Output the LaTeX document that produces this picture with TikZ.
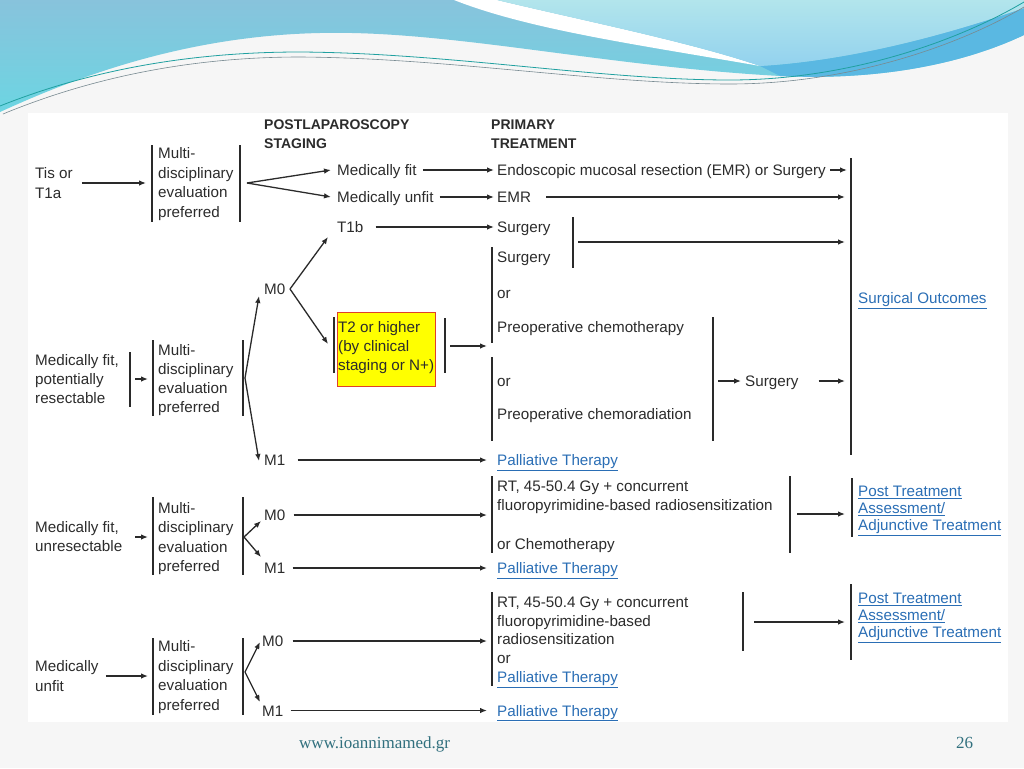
\documentclass[tikz,border=0pt]{standalone}
\usepackage{fontspec}
\setmainfont{Liberation Sans}
\newfontfamily\footfont{Liberation Serif}
\usetikzlibrary{arrows.meta}
\definecolor{txtc}{HTML}{2C2C2C}
\definecolor{lnc}{HTML}{2A2A2A}
\definecolor{lnkc}{HTML}{2A6EB5}
\definecolor{redc}{HTML}{E0402A}
\definecolor{yelc}{HTML}{FFFF00}
\definecolor{bgc}{HTML}{F6F6F6}
\definecolor{hbA}{HTML}{88C3DC}
\definecolor{hbB}{HTML}{6CD5E2}
\definecolor{hcA}{HTML}{B2E5EC}
\definecolor{hcB}{HTML}{93D2EE}
\definecolor{hband}{HTML}{5AB8E2}
\definecolor{footc}{HTML}{31707E}
\tikzset{
  txt/.style={anchor=base west, inner sep=0pt, text=txtc, font=\fontsize{15.2}{19.5}\selectfont, text height=11pt, text depth=0pt},
  mtxt/.style={anchor=base west, inner sep=0pt, text=txtc, align=left, font=\fontsize{15.2}{#1}\selectfont},
  mtxt/.default=19.5,
  hdr/.style={anchor=base west, inner sep=0pt, text=txtc, align=left, font=\fontsize{14}{19}\selectfont\bfseries},
  lnk/.style={anchor=base west, inner sep=0pt, text=lnkc, font=\fontsize{15.2}{19.5}\selectfont, text height=11pt, text depth=0pt},
  lnkm/.style={anchor=base west, inner sep=0pt, text=lnkc, align=left, font=\fontsize{15.2}{17}\selectfont},
  bar/.style={draw=lnc, line width=1.3pt},
  arr/.style={draw=lnc, line width=1.3pt, -{Latex[length=7pt,width=5.5pt]}},
}
\begin{document}
\begin{tikzpicture}[x=1pt,y=-1pt]
\useasboundingbox (0,0) rectangle (1024,768);
\fill[bgc] (0,0) rectangle (1024,768);
% header waves
\shade[top color=hbA, bottom color=hbB] (0,0) -- (1024,0) -- (1024,35)
  .. controls (950,70) and (860,80) .. (780,76)
  .. controls (600,66) and (450,30) .. (320,33)
  .. controls (180,36) and (70,80) .. (0,112) -- cycle;
\fill[hband] (760,66) .. controls (860,60) and (960,30) .. (1024,8) -- (1024,35)
  .. controls (950,70) and (860,80) .. (780,76) -- cycle;
\fill[white] (454,0) .. controls (530,30) and (640,45) .. (760,66)
  .. controls (690,42) and (580,20) .. (497,0) -- cycle;
\shade[top color=hcA, bottom color=hcB] (497,0) .. controls (580,20) and (690,42) .. (760,66)
  .. controls (860,60) and (960,30) .. (1024,8) -- (1024,0) -- cycle;
\draw[color={rgb,255:red,32;green,160;blue,160}, line width=0.8pt]
  (0,106) .. controls (90,70) and (190,52) .. (300,52) .. controls (450,53) and (600,80) .. (730,80) .. controls (850,80) and (960,40) .. (1024,2);
\draw[color={rgb,255:red,120;green,138;blue,145}, line width=0.6pt]
  (3,114) .. controls (95,76) and (195,57) .. (300,57) .. controls (450,58) and (600,84) .. (730,84) .. controls (850,84) and (960,45) .. (1024,7);
% image area
\fill[white] (28,113) rectangle (1008,722);

% headers (anchor = baseline of last line)
\node[hdr] (hpost) at (264,148) {POSTLAPAROSCOPY\\STAGING};
\node[hdr] (hprim) at (491,148) {PRIMARY\\TREATMENT};

% ---------- section 1
\node[mtxt=20] (tis) at (35,198.5) {Tis or\\T1a};
\node[mtxt=19.7] (box1) at (158,217.6) {Multi-\\disciplinary\\evaluation\\preferred};
\node[txt] (mfit) at (337,175.5) {Medically fit};
\node[txt] (endo) at (497,175.5) {Endoscopic mucosal resection (EMR) or Surgery};
\node[txt] (munfit) at (337,202.5) {Medically unfit};
\node[txt] (emr) at (497,202.5) {EMR};
\node[txt] (t1b) at (337,232.5) {T1b};
\node[txt] (surg1) at (497,232.5) {Surgery};
\node[txt] (surg2) at (497,262.5) {Surgery};
\node[txt] (or1) at (497,298.5) {or};
\node[txt] (pchemo) at (497,332.5) {Preoperative chemotherapy};
\node[txt] (or2) at (497,386.5) {or};
\node[txt] (pchrad) at (497,419.5) {Preoperative chemoradiation};
\node[txt] (surg3) at (745,386.5) {Surgery};
\node[lnk] (surgout) at (858,303.5) {\underline{Surgical Outcomes}};
\node[txt] (m0a) at (264,294.5) {M0};
\node[txt] (m1a) at (264,465.5) {M1};
\node[lnk] (pal1) at (497,465.5) {\underline{Palliative Therapy}};
\node[draw=redc, line width=1pt, fill=yelc, minimum width=98pt, minimum height=74pt, anchor=north west, inner sep=0pt] (t2box) at (337,312) {};
\node[mtxt=19] (t2) at (338,370.5) {T2 or higher\\(by clinical\\staging or N+)};

\draw[bar] (152,145) -- (152,222);
\draw[bar] (240,145) -- (240,222);
\draw[bar] (573,217) -- (573,268);
\draw[bar] (492,247) -- (492,343);
\draw[bar] (492,357) -- (492,441);
\draw[bar] (713,317) -- (713,441);
\draw[bar] (851,158) -- (851,455);
\draw[bar] (334,317) -- (334,373);
\draw[bar] (445,318) -- (445,373);

\coordinate (b1in) at (146,183);
\coordinate (v1) at (247,183);
\coordinate (bb1) at (847,170);
\coordinate (bb2) at (845,197);
\coordinate (s1bar) at (578,242);
\coordinate (bb3) at (845,242);
\coordinate (v0) at (290,289);
\coordinate (t1btip) at (328,237);
\coordinate (t2tip) at (328,344);
\coordinate (t2out) at (450,346);
\coordinate (pin) at (487,346);
\coordinate (sbar) at (718,381);
\coordinate (bb4) at (845,381);

\draw[arr] ([xshift=9pt]b1in -| tis.east) -- (b1in);
\draw[arr] (v1) -- ([xshift=-6pt]mfit.west);
\draw[arr] (v1) -- ([xshift=-6pt]munfit.west);
\draw[arr] ([xshift=6pt]mfit.east) -- ([xshift=-3pt]endo.west);
\draw[arr] ([xshift=4pt]endo.east) -- (bb1);
\draw[arr] ([xshift=6pt]munfit.east) -- ([xshift=-3pt]emr.west);
\draw[arr] ([xshift=15pt]emr.east) -- (bb2);
\draw[arr] ([xshift=12pt]t1b.east) -- ([xshift=-3pt]surg1.west);
\draw[arr] (s1bar) -- (bb3);
\draw[arr] (v0) -- (t1btip);
\draw[arr] (v0) -- (t2tip);
\draw[arr] (t2out) -- (pin);
\draw[arr] (sbar) -- ([xshift=-4pt]surg3.west);
\draw[arr] ([xshift=20pt]surg3.east) -- (bb4);
\draw[arr] ([xshift=12pt]m1a.east) -- ([xshift=-10pt]pal1.west);

% ---------- section 2
\node[mtxt=19] (res) at (35,403.5) {Medically fit,\\potentially\\resectable};
\node[mtxt=19] (box2) at (158,412.5) {Multi-\\disciplinary\\evaluation\\preferred};
\draw[bar] (130,352) -- (130,407);
\draw[bar] (153,340) -- (153,416);
\draw[bar] (243,340) -- (243,416);
\coordinate (r1) at (135,379);
\coordinate (r2) at (148,379);
\coordinate (v2) at (245,378);
\coordinate (m0tip) at (259,296);
\coordinate (m1tip) at (259,461);
\draw[arr] (r1) -- (r2);
\draw[arr] (v2) -- (m0tip);
\draw[arr] (v2) -- (m1tip);

% ---------- section 3
\node[mtxt=19] (unres) at (35,551.5) {Medically fit,\\unresectable};
\node[mtxt=19.3] (box3) at (158,571.4) {Multi-\\disciplinary\\evaluation\\preferred};
\node[txt] (m0b) at (264,520.5) {M0};
\node[txt] (m1b) at (264,573.5) {M1};
\node[mtxt=19] (rt1) at (497,510.5) {RT, 45-50.4 Gy + concurrent\\fluoropyrimidine-based radiosensitization};
\node[txt] (orchemo) at (497,549.5) {or Chemotherapy};
\node[lnk] (pal2) at (497,573.5) {\underline{Palliative Therapy}};
\node[lnkm] (pta1) at (858,530.5) {\underline{Post Treatment}\\\underline{Assessment/}\\\underline{Adjunctive Treatment}};
\draw[bar] (153,497) -- (153,575);
\draw[bar] (243,497) -- (243,575);
\draw[bar] (492,476) -- (492,553);
\draw[bar] (790,476) -- (790,553);
\draw[bar] (852,478) -- (852,537);
\coordinate (u1) at (135,537);
\coordinate (u2) at (148,537);
\coordinate (v3) at (244,537);
\coordinate (m0btip) at (261,521);
\coordinate (m1btip) at (261,557);
\coordinate (rt1in) at (487,515);
\coordinate (rt1out) at (797,514);
\coordinate (pta1in) at (845,514);
\draw[arr] (u1) -- (u2);
\draw[arr] (v3) -- (m0btip);
\draw[arr] (v3) -- (m1btip);
\draw[arr] ([xshift=8pt]m0b.east) -- (rt1in);
\draw[arr] ([xshift=7pt]m1b.east) -- ([xshift=-10pt]pal2.west);
\draw[arr] (rt1out) -- (pta1in);

% ---------- section 4
\node[mtxt=20] (unfit) at (35,691.5) {Medically\\unfit};
\node[mtxt=19.7] (box4) at (158,710.6) {Multi-\\disciplinary\\evaluation\\preferred};
\node[txt] (m0c) at (262,646.5) {M0};
\node[txt] (m1c) at (262,716) {M1};
\node[mtxt=18.7] (rt2) at (497,682.3) {RT, 45-50.4 Gy + concurrent\\fluoropyrimidine-based\\radiosensitization\\or\\\textcolor{lnkc}{\underline{Palliative Therapy}}};
\node[lnkm] (pta2) at (858,637.5) {\underline{Post Treatment}\\\underline{Assessment/}\\\underline{Adjunctive Treatment}};
\node[lnk] (pal3) at (497,716) {\underline{Palliative Therapy}};
\draw[bar] (153,638) -- (153,715);
\draw[bar] (243,638) -- (243,715);
\draw[bar] (492,592) -- (492,686);
\draw[bar] (743,592) -- (743,651);
\draw[bar] (851,584) -- (851,660);
\coordinate (b4in) at (148,676);
\coordinate (v4) at (245,672);
\coordinate (m0ctip) at (260,642);
\coordinate (m1ctip) at (260,702);
\coordinate (rt2in) at (487,641);
\coordinate (rt2out) at (754,622);
\coordinate (pta2in) at (845,622);
\draw[arr] ([xshift=7pt]b4in -| unfit.east) -- (b4in);
\draw[arr] (v4) -- (m0ctip);
\draw[arr] (v4) -- (m1ctip);
\draw[arr] ([xshift=9pt]m0c.east) -- (rt2in);
\draw[arr] ([xshift=7pt]m1c.east) -- ([xshift=-10pt]pal3.west);
\draw[arr] (rt2out) -- (pta2in);

% footer
\node[anchor=base west, inner sep=0pt, text=footc, font=\footfont\fontsize{17}{20}\selectfont] (url) at (299,748) {www.ioannimamed.gr};
\node[anchor=base west, inner sep=0pt, text=footc, font=\footfont\fontsize{17}{20}\selectfont] (pg) at (956,748) {26};
\end{tikzpicture}
\end{document}
